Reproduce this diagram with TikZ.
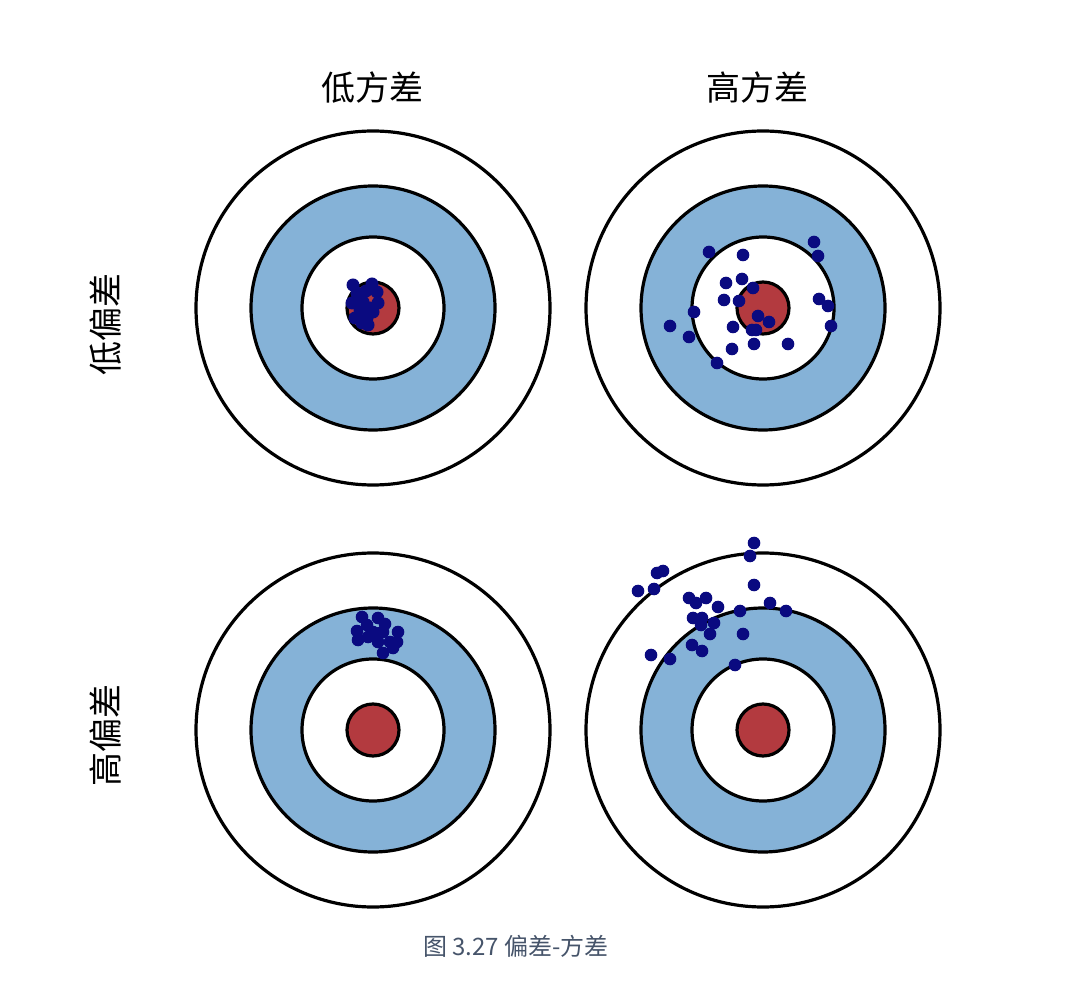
\documentclass[tikz,border=0pt]{standalone}
\usepackage{fontspec}
\newfontfamily\cjk{Noto Sans CJK SC}
\usepackage{tikz}
\usetikzlibrary{positioning}
\definecolor{ringblue}{HTML}{85B2D7}
\definecolor{bullred}{HTML}{B33A3F}
\definecolor{shotnavy}{HTML}{0A0A80}
\definecolor{captiongray}{HTML}{46546A}

\begin{document}
\begin{tikzpicture}[
            x=0.5pt,y=-0.5pt,
            ring/.style={draw=black,line width=1.6pt},
            outerring/.style={ring,fill=white},
            bluering/.style={ring,fill=ringblue},
            innerring/.style={ring,fill=white},
            bullseye/.style={ring,fill=bullred},
            shot/.style={fill=shotnavy,draw=none},
            heading/.style={font=\cjk\fontsize{17}{20}\selectfont,inner sep=0pt},
            caption/.style={font=\cjk\fontsize{12}{14}\selectfont,text=captiongray,inner sep=0pt},
        ]
            \useasboundingbox (0,0) rectangle (1080,1004);

            %--- Target centres ---%
            \coordinate (tl) at (373,308);
            \coordinate (tr) at (763,308);
            \coordinate (bl) at (373,730);
            \coordinate (br) at (763,730);

            %--- Targets (same rings for all four) ---%
            \foreach \c in {tl,tr,bl,br} {
                \draw[outerring] (\c) circle[radius=177];
                \draw[bluering]  (\c) circle[radius=122];
                \draw[innerring] (\c) circle[radius=71];
                \draw[bullseye]  (\c) circle[radius=26];
            }

            %--- Shots: low bias, low variance ---%
            \foreach \p in {(353,285),(372,284),(357,293),(377,292),(358,297),(352,303),
                            (363,302),(378,303),(360,310),(373,312),(355,318),(367,318),
                            (362,323),(368,325),(366,291),(370,308)}
                \fill[shot] \p circle[radius=6.5];

            %--- Shots: low bias, high variance ---%
            \foreach \p in {(709,252),(743,255),(814,242),(818,256),(726,283),(742,279),
                            (753,288),(724,300),(739,301),(819,299),(828,306),(694,312),
                            (670,326),(758,316),(769,322),(733,327),(752,330),(756,330),
                            (831,326),(689,337),(754,344),(788,344),(732,349),(717,363)}
                \fill[shot] \p circle[radius=6.3];

            %--- Shots: high bias, low variance ---%
            \foreach \p in {(362,617),(378,618),(385,624),(367,625),(357,631),(373,632),
                            (383,632),(398,632),(380,633),(358,640),(368,637),(378,642),
                            (390,642),(397,642),(393,648),(383,653)}
                \fill[shot] \p circle[radius=6.3];

            %--- Shots: high bias, high variance ---%
            \foreach \p in {(754,543),(750,556),(663,571),(657,573),(638,591),(654,589),
                            (754,585),(689,598),(696,603),(706,598),(718,607),(770,603),
                            (786,611),(740,611),(693,618),(702,618),(701,625),(714,623),
                            (710,634),(743,634),(692,645),(702,651),(651,655),(670,659),
                            (735,665)}
                \fill[shot] \p circle[radius=6.3];

            %--- Labels ---%
            \node[heading] (lowvar)   at (372,88) {低方差};
            \node[heading] (highvar)  at (757,88) {高方差};
            \node[heading,rotate=90] (lowbias)  at (106,325) {低偏差};
            \node[heading,rotate=90] (highbias) at (106,735) {高偏差};
            \node[caption] (fig) at (516,946) {图 3.27 偏差-方差};

        \end{tikzpicture}
\end{document}
